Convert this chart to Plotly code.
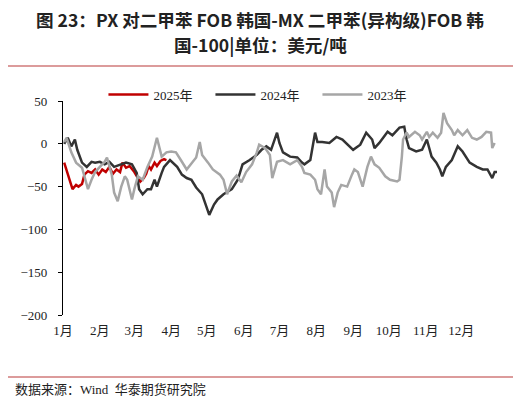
import plotly.graph_objects as go

# 数据：以 2024 年为公共横轴（月-日），单位 美元/吨
dates_2025 = ["01-02", "01-05", "01-07", "01-09", "01-12", "01-14", "01-17", "01-19",
              "01-22", "01-25", "01-28", "01-31", "02-03", "02-06", "02-09", "02-12",
              "02-15", "02-18", "02-20", "02-23", "02-26", "03-01", "03-04", "03-06",
              "03-09", "03-11", "03-13", "03-15", "03-18", "03-20", "03-23", "03-26", "03-28"]
vals_2025 = [-22, -35, -45, -53, -48, -50, -47, -36,
             -32, -34, -30, -36, -30, -33, -27, -35,
             -30, -33, -22, -28, -26, -33, -40, -44,
             -40, -35, -26, -30, -22, -26, -20, -18, -19]

dates_2024 = ["01-02", "01-05", "01-08", "01-11", "01-13", "01-17", "01-21", "01-25", "01-28",
              "02-01", "02-05", "02-09", "02-13", "02-19", "02-23", "02-28",
              "03-03", "03-05", "03-08", "03-12", "03-15", "03-18", "03-20", "03-24", "03-26", "03-31",
              "04-02", "04-06", "04-10", "04-14", "04-18", "04-22", "04-27", "04-30",
              "05-03", "05-07", "05-10", "05-15", "05-22", "05-27", "05-31",
              "06-06", "06-12", "06-16", "06-20", "06-24", "06-29",
              "07-01", "07-04", "07-10", "07-16", "07-20", "07-22", "07-27", "07-31",
              "08-02", "08-06", "08-12", "08-18", "08-23", "08-29",
              "09-01", "09-07", "09-12", "09-17", "09-19", "09-23", "09-30",
              "10-04", "10-10", "10-14", "10-16", "10-18", "10-24", "10-29",
              "11-02", "11-06", "11-10", "11-13", "11-15", "11-18", "11-23", "11-28",
              "12-02", "12-08", "12-14", "12-19", "12-23", "12-27", "12-29", "12-31"]
vals_2024 = [0, 7, -3, 5, -7, -22, -27, -21, -22,
             -21, -24, -21, -27, -24, -22, -24,
             -34, -53, -59, -53, -53, -42, -50, -34, -27, -19,
             -22, -27, -36, -40, -42, -51, -59, -71,
             -83, -71, -65, -59, -53, -42, -24,
             -19, -13, -7, -3, -7, 13,
             1, -10, -15, -16, -22, -24, -19, 13,
             2, 2, 1, 8, 5, -3,
             -7, -1, 13, 5, -5, 1, 14,
             10, 19, 20, 5, -5, -9, -7,
             5, -15, -22, -30, -38, -27, -19, -3,
             -9, -22, -27, -30, -30, -40, -33, -33]

dates_2023 = ["01-02", "01-04", "01-08", "01-12", "01-17", "01-22", "01-25", "01-28",
              "02-01", "02-05", "02-07", "02-11", "02-13", "02-16", "02-19", "02-22", "02-24", "02-28",
              "03-01", "03-04", "03-08", "03-12", "03-16", "03-20", "03-24", "03-28",
              "04-01", "04-05", "04-10", "04-14", "04-18", "04-22", "04-25", "04-27",
              "05-02", "05-06", "05-12", "05-15", "05-18", "05-22", "05-26", "05-30",
              "06-03", "06-08", "06-12", "06-14", "06-19", "06-23", "06-25", "06-29",
              "07-04", "07-10", "07-16", "07-20", "07-22", "07-27", "07-31",
              "08-02", "08-05", "08-08", "08-10", "08-14", "08-16", "08-19", "08-22", "08-27", "08-31",
              "09-02", "09-05", "09-09", "09-13", "09-16", "09-19", "09-23", "09-28",
              "10-02", "10-08", "10-10", "10-12", "10-13", "10-16", "10-18", "10-23", "10-27", "10-29",
              "11-02", "11-04", "11-07", "11-11", "11-14", "11-16", "11-19", "11-23", "11-25", "11-28",
              "12-02", "12-06", "12-10", "12-14", "12-18", "12-22", "12-26", "12-27", "12-29"]
vals_2023 = [2, 7, -10, -22, -28, -53, -42, -33,
             -27, -21, -16, -36, -57, -67, -50, -38, -42, -65,
             -53, -38, -42, -27, -15, 7, -15, -10,
             -9, -10, -21, -30, -23, -16, 2, -13,
             -22, -30, -36, -42, -59, -44, -37, -45,
             -33, -24, -10, -1, -5, -13, -40, -21,
             -19, -24, -19, -27, -34, -36, -42,
             -53, -59, -30, -50, -57, -74, -57, -48, -50, -36,
             -30, -33, -50, -27, -15, -24, -28, -38,
             -42, -44, -42, -15, 5, 13, 8, 14, 10, 5,
             14, 8, 13, 7, 13, 36, 24, 16, 10, 16,
             10, 16, 7, 5, 8, 14, 13, -5, 1]

months = ["1月", "2月", "3月", "4月", "5月", "6月", "7月", "8月", "9月", "10月", "11月", "12月"]
month_starts = ["2024-%02d-01" % m for m in range(1, 13)]

SERIF = "Liberation Serif, Times New Roman, Noto Sans CJK SC"
CJK = "Noto Sans CJK SC"

fig = go.Figure()
series = [
    ("2025年", dates_2025, vals_2025, "#c00000"),
    ("2024年", dates_2024, vals_2024, "#333333"),
    ("2023年", dates_2023, vals_2023, "#a6a6a6"),
]
for name, d, v, color in series:
    fig.add_trace(go.Scatter(
        x=["2024-" + s for s in d], y=v, name=name, mode="lines",
        line=dict(color=color, width=2.5),
    ))

# 页面 body 有 8px 边距，图本身缩小 8px
fig.update_layout(
    width=513, height=396,
    margin=dict(l=55, r=24, t=93, b=89, autoexpand=False),
    paper_bgcolor="white", plot_bgcolor="white",
    showlegend=True,
    legend=dict(orientation="h", x=0.463, xanchor="center", y=1.03, yanchor="middle",
                font=dict(family=SERIF, size=13, color="#222"), itemwidth=40,
                entrywidth=52, tracegroupgap=0, bgcolor="rgba(0,0,0,0)"),
    xaxis=dict(
        type="date", range=["2024-01-01", "2024-12-31"],
        tickvals=month_starts, ticktext=months,
        showline=False, showgrid=False, zeroline=False, ticks="",
        tickfont=dict(family=SERIF, size=13, color="#222"),
        ticklabelstandoff=6,
    ),
    # 横轴线放在 0 处
    xaxis2=dict(
        type="date", overlaying="x", matches="x", anchor="free", position=0.8,
        side="bottom", tickvals=month_starts, showticklabels=False,
        showline=True, linecolor="black", linewidth=1.3,
        ticks="outside", ticklen=4, tickcolor="black", showgrid=False, zeroline=False,
    ),
    yaxis=dict(
        range=[-200, 50], dtick=50, showgrid=False, zeroline=False,
        showline=True, linecolor="black", linewidth=1.3,
        ticks="outside", ticklen=4, tickcolor="black",
        tickfont=dict(family=SERIF, size=13, color="#222"),
        ticklabelstandoff=8,
    ),
)

# 标题
fig.add_annotation(text="<b>图 23：PX 对二甲苯 FOB 韩国-MX 二甲苯(异构级)FOB 韩</b>",
                   xref="paper", yref="paper", x=0.454, y=1.383, xanchor="center", yanchor="middle",
                   showarrow=False, font=dict(family=CJK, size=17.6, color="#222"))
fig.add_annotation(text="<b>国-100|单位：美元/吨</b>",
                   xref="paper", yref="paper", x=0.454, y=1.263, xanchor="center", yanchor="middle",
                   showarrow=False, font=dict(family=CJK, size=17.6, color="#222"))

# 分隔线
for yy in [1.1636, -0.2897]:
    fig.add_shape(type="line", xref="paper", yref="paper", x0=-0.1336, x1=1.0415, y0=yy, y1=yy,
                  line=dict(color="#d07a7a", width=1.5))

fig.add_annotation(text="数据来源：Wind  华泰期货研究院", xref="paper", yref="paper",
                   x=-0.115, y=-0.35, xanchor="left", yanchor="middle", showarrow=False,
                   font=dict(family=SERIF, size=13, color="#222"))

fig.write_html("out.html")
